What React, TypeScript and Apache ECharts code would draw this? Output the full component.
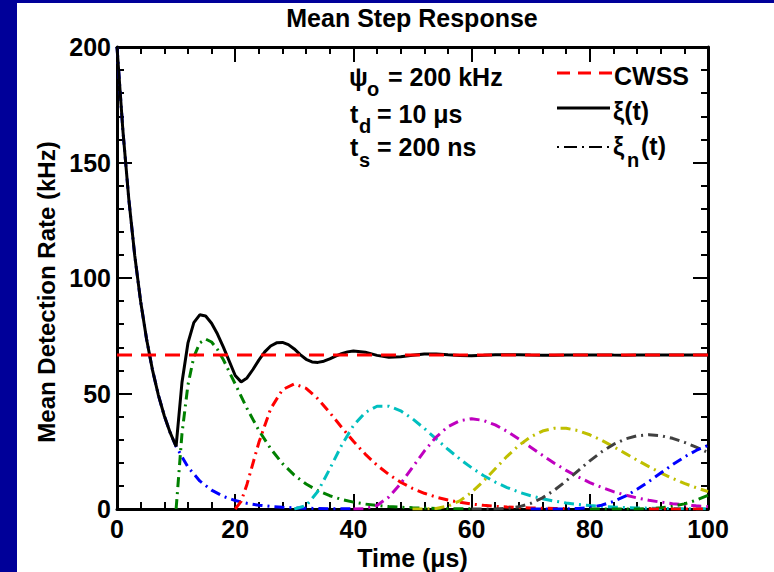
import React, { useEffect, useRef } from "react";
import * as echarts from "echarts";

const FONT = '"Liberation Sans", Arial, Helvetica, sans-serif';

// x-axis and y-axis tick ranges
const xMin = 0, xMax = 100, xStep = 20;
const yMin = 0, yMax = 200, yStep = 50;

// CWSS level (kHz)
const cwssLevel = 66.67;

// xi(t): mean detection rate, [time (us), rate (kHz)]
const xiTotal: number[][] = [
  [0, 200], [1, 163.75], [2, 134.06], [3, 109.76], [4, 89.87], [5, 73.58], [6, 60.24], [7, 49.32],
  [8, 40.38], [9, 33.06], [10, 27.07], [11, 54.91], [12, 71.77], [13, 80.71], [14, 84.05], [15, 83.54],
  [16, 80.44], [17, 75.72], [18, 70.07], [19, 63.98], [20, 57.79], [21, 55.03], [22, 56.73], [23, 60.39],
  [24, 64.46], [25, 68.01], [26, 70.56], [27, 71.92], [28, 72.1], [29, 71.17], [30, 69.28], [31, 66.86],
  [32, 64.81], [33, 63.68], [34, 63.47], [35, 63.99], [36, 64.98], [37, 66.14], [38, 67.22], [39, 68.02],
  [40, 68.44], [42, 67.89], [44, 66.5], [46, 65.73], [48, 65.88], [50, 66.58], [52, 67.14], [54, 67.15],
  [56, 66.79], [58, 66.44], [60, 66.38], [62, 66.56], [64, 66.76], [66, 66.81], [68, 66.73], [70, 66.62],
  [72, 66.57], [74, 66.59], [76, 66.67], [78, 66.71], [80, 66.71], [82, 66.67], [84, 66.63], [86, 66.61],
  [88, 66.64], [90, 66.67], [92, 66.67], [94, 66.66], [96, 66.65], [98, 66.63], [100, 66.67],
];

// xi_n(t): contribution of the n-th detection
const xi1: number[][] = [
  [0, 200], [1, 163.75], [2, 134.06], [3, 109.76], [4, 89.87], [5, 73.58], [6, 60.24], [7, 49.32],
  [8, 40.38], [9, 33.06], [10, 27.07], [12, 18.14], [14, 12.16], [16, 8.15], [18, 5.46], [20, 3.66],
  [22, 2.46], [24, 1.65], [26, 1.1], [28, 0.74], [30, 0.5], [32, 0.33], [34, 0.22], [36, 0.15],
  [38, 0.1], [40, 0.07],
];
const xi2: number[][] = [
  [10, 0], [11, 32.75], [12, 53.63], [13, 65.86], [14, 71.89], [15, 73.58], [16, 72.29], [17, 69.05],
  [18, 64.61], [20, 54.13], [22, 43.54], [24, 34.05], [26, 26.09], [28, 19.67], [30, 14.65], [32, 10.8],
  [34, 7.9], [36, 5.74], [38, 4.14], [40, 2.97], [42, 2.13], [44, 1.51], [46, 1.08], [48, 0.76],
  [50, 0.54], [52, 0.38], [54, 0.27], [56, 0.19], [58, 0.13], [60, 0.09],
];
const xi3: number[][] = [
  [20, 0], [21, 3.27], [22, 10.73], [24, 28.76], [26, 43.37], [28, 51.69], [30, 54.13], [32, 52.25],
  [34, 47.68], [36, 41.74], [38, 35.41], [40, 29.31], [42, 23.77], [44, 18.96], [46, 14.92], [48, 11.6],
  [50, 8.92], [52, 6.81], [54, 5.15], [56, 3.87], [58, 2.89], [60, 2.15], [62, 1.59], [64, 1.17],
  [66, 0.86], [68, 0.62], [70, 0.45], [72, 0.33], [74, 0.24], [76, 0.17],
];
const xi4: number[][] = [
  [30, 0], [32, 1.43], [34, 7.67], [36, 17.35], [38, 27.57], [40, 36.09], [42, 41.8], [44, 44.5],
  [46, 44.52], [48, 42.49], [50, 39.07], [52, 34.86], [54, 30.34], [56, 25.86], [58, 21.65], [60, 17.85],
  [62, 14.52], [64, 11.67], [66, 9.29], [68, 7.32], [70, 5.73], [72, 4.44], [74, 3.42], [76, 2.62],
  [78, 2.0], [80, 1.51], [82, 1.14], [84, 0.86], [86, 0.64], [88, 0.48], [90, 0.35], [92, 0.26],
  [94, 0.19], [96, 0.14], [98, 0.1], [100, 0.08],
];
const xi5: number[][] = [
  [40, 0], [42, 0.14], [44, 1.53], [46, 5.21], [48, 11.03], [50, 18.05], [52, 25.08], [54, 31.15],
  [56, 35.62], [58, 38.24], [60, 39.07], [62, 38.35], [64, 36.41], [66, 33.61], [68, 30.31], [70, 26.77],
  [72, 23.23], [74, 19.84], [76, 16.72], [78, 13.91], [80, 11.45], [82, 9.33], [84, 7.53], [86, 6.03],
  [88, 4.79], [90, 3.78], [92, 2.97], [94, 2.31], [96, 1.79], [98, 1.38], [100, 1.06],
];
const xi6: number[][] = [
  [50, 0], [52, 0.01], [54, 0.25], [56, 1.25], [58, 3.53], [60, 7.22], [62, 12.04], [64, 17.44],
  [66, 22.8], [68, 27.54], [70, 31.26], [72, 33.75], [74, 34.95], [76, 34.96], [78, 33.94], [80, 32.13],
  [82, 29.74], [84, 26.99], [86, 24.08], [88, 21.15], [90, 18.32], [92, 15.67], [94, 13.26], [96, 11.1],
  [98, 9.2], [100, 7.57],
];
const xi7: number[][] = [
  [60, 0], [62, 0], [64, 0.03], [66, 0.25], [68, 0.94], [70, 2.41], [72, 4.82], [74, 8.14],
  [76, 12.16], [78, 16.52], [80, 20.84], [82, 24.75], [84, 27.96], [86, 30.3], [88, 31.68], [90, 32.13],
  [92, 31.72], [94, 30.59], [96, 28.89], [98, 26.79], [100, 24.43],
];
const xi8: number[][] = [
  [70, 0], [72, 0], [74, 0], [76, 0.04], [78, 0.21], [80, 0.69], [82, 1.65], [84, 3.26],
  [86, 5.56], [88, 8.5], [90, 11.91], [92, 15.55], [94, 19.17], [96, 22.51], [98, 25.34], [100, 27.54],
];
const xi9: number[][] = [
  [80, 0], [82, 0], [84, 0], [86, 0.01], [88, 0.04], [90, 0.17], [92, 0.5], [94, 1.14],
  [96, 2.22], [98, 3.82], [100, 5.95],
];
const xi10: number[][] = [[90, 0], [92, 0], [94, 0], [96, 0], [98, 0.003], [100, 0.04]];

const components = [xi1, xi2, xi3, xi4, xi5, xi6, xi7, xi8, xi9, xi10];
const componentColors = [
  "#0000ff", "#008000", "#ff0000", "#00bfbf", "#bf00bf", "#bfbf00", "#404040",
  "#0000ff", "#008000", "#ff0000",
];

const bold = (size: number) => ({ fontSize: size, fontWeight: "bold" as const, fontFamily: FONT, color: "#000" });
const gFont = (size: number) => `bold ${size}px ${FONT}`;

function txt(text: string, x: number, y: number, size = 25) {
  return {
    type: "text",
    z: 100,
    style: {
      text, x, y, font: gFont(size), fill: "#000",
      align: "left", verticalAlign: "middle", textAlign: "left", textVerticalAlign: "middle",
    },
  };
}

function axisCommon(showLabel: boolean, minorSplit: number) {
  return {
    type: "value",
    axisLine: { show: true, onZero: false, lineStyle: { color: "#000", width: 3 } },
    axisTick: { show: true, inside: true, length: 15, lineStyle: { color: "#000", width: 2 } },
    minorTick: { show: true, splitNumber: minorSplit, length: 7, lineStyle: { color: "#000", width: 2 } },
    splitLine: { show: false },
    minorSplitLine: { show: false },
    axisLabel: { show: showLabel, ...bold(25) },
  };
}

export default function App() {
  const ref = useRef<HTMLDivElement>(null);
  useEffect(() => {
    const chart = echarts.init(ref.current!, null, { renderer: "svg" });
    const compSeries = components.map((d, i) => ({
      type: "line",
      name: `xi${i + 1}`,
      data: d,
      symbol: "none",
      showSymbol: false,
      z: 2,
      lineStyle: { color: componentColors[i], width: 3, type: [10, 5, 2, 5] },
      itemStyle: { color: componentColors[i] },
      emphasis: { disabled: true },
    }));
    const option: any = {
      animation: false,
      backgroundColor: "#ffffff",
      title: {
        text: "Mean Step Response",
        left: 412,
        top: 5,
        padding: 0,
        textAlign: "center",
        textStyle: bold(25),
      },
      grid: { left: 117, right: 66, top: 47, bottom: 63, containLabel: false, outerBoundsMode: "none" },
      xAxis: [
        {
          ...axisCommon(true, 5),
          min: xMin, max: xMax, interval: xStep, position: "bottom",
          axisLabel: { ...bold(25), margin: 7 },
          name: "Time (μs)", nameLocation: "middle", nameGap: 24, nameTextStyle: bold(25),
        },
        { ...axisCommon(false, 5), min: xMin, max: xMax, interval: xStep, position: "top" },
      ],
      yAxis: [
        {
          ...axisCommon(true, 5),
          min: yMin, max: yMax, interval: yStep, position: "left",
          axisLabel: { ...bold(25), margin: 6 },
          name: "Mean Detection Rate (kHz)", nameLocation: "middle", nameGap: 56,
          nameTextStyle: { ...bold(24), padding: [0, 28, 0, 0] },
        },
        { ...axisCommon(false, 5), min: yMin, max: yMax, interval: yStep, position: "right" },
      ],
      series: [
        ...compSeries,
        {
          type: "line", name: "ξ(t)", data: xiTotal, symbol: "none", z: 3,
          lineStyle: { color: "#000", width: 3, type: "solid" },
          itemStyle: { color: "#000" }, emphasis: { disabled: true },
        },
        {
          type: "line", name: "CWSS", data: [[xMin, cwssLevel], [xMax, cwssLevel]], symbol: "none", z: 4,
          lineStyle: { color: "#ff0000", width: 3, type: [15, 9] },
          itemStyle: { color: "#ff0000" }, emphasis: { disabled: true },
        },
      ],
      graphic: [
        { type: "rect", z: 100, shape: { x: 0, y: 0, width: 17, height: 572 }, style: { fill: "#000099" } },
        { type: "rect", z: 100, shape: { x: 0, y: 0, width: 774, height: 3 }, style: { fill: "#000099" } },
        txt("ψ", 349, 77),
        txt("o", 367, 89, 20),
        txt("= 200 kHz", 388, 77),
        txt("t", 350, 114),
        txt("d", 359, 126, 20),
        txt("= 10 μs", 377, 114),
        txt("t", 350, 147),
        txt("s", 359, 160, 20),
        txt("= 200 ns", 377, 147),
        { type: "line", z: 100, shape: { x1: 557, y1: 73, x2: 612, y2: 73 }, style: { stroke: "#ff0000", lineWidth: 3, lineDash: [13, 8] } },
        txt("CWSS", 614, 76),
        { type: "line", z: 100, shape: { x1: 557, y1: 108, x2: 610, y2: 108 }, style: { stroke: "#000", lineWidth: 3 } },
        txt("ξ(t)", 613, 111),
        { type: "line", z: 100, shape: { x1: 557, y1: 147, x2: 612, y2: 147 }, style: { stroke: "#000", lineWidth: 2, lineDash: [2, 5, 13, 5] } },
        txt("ξ", 613, 146),
        txt("n", 627, 160, 20),
        txt("(t)", 641, 146),
      ],
    };
    chart.setOption(option);
    return () => chart.dispose();
  }, []);
  return (
    <div
      ref={ref}
      style={{ position: "fixed", left: 0, top: 0, width: 774, height: 572, background: "#fff" }}
    />
  );
}
